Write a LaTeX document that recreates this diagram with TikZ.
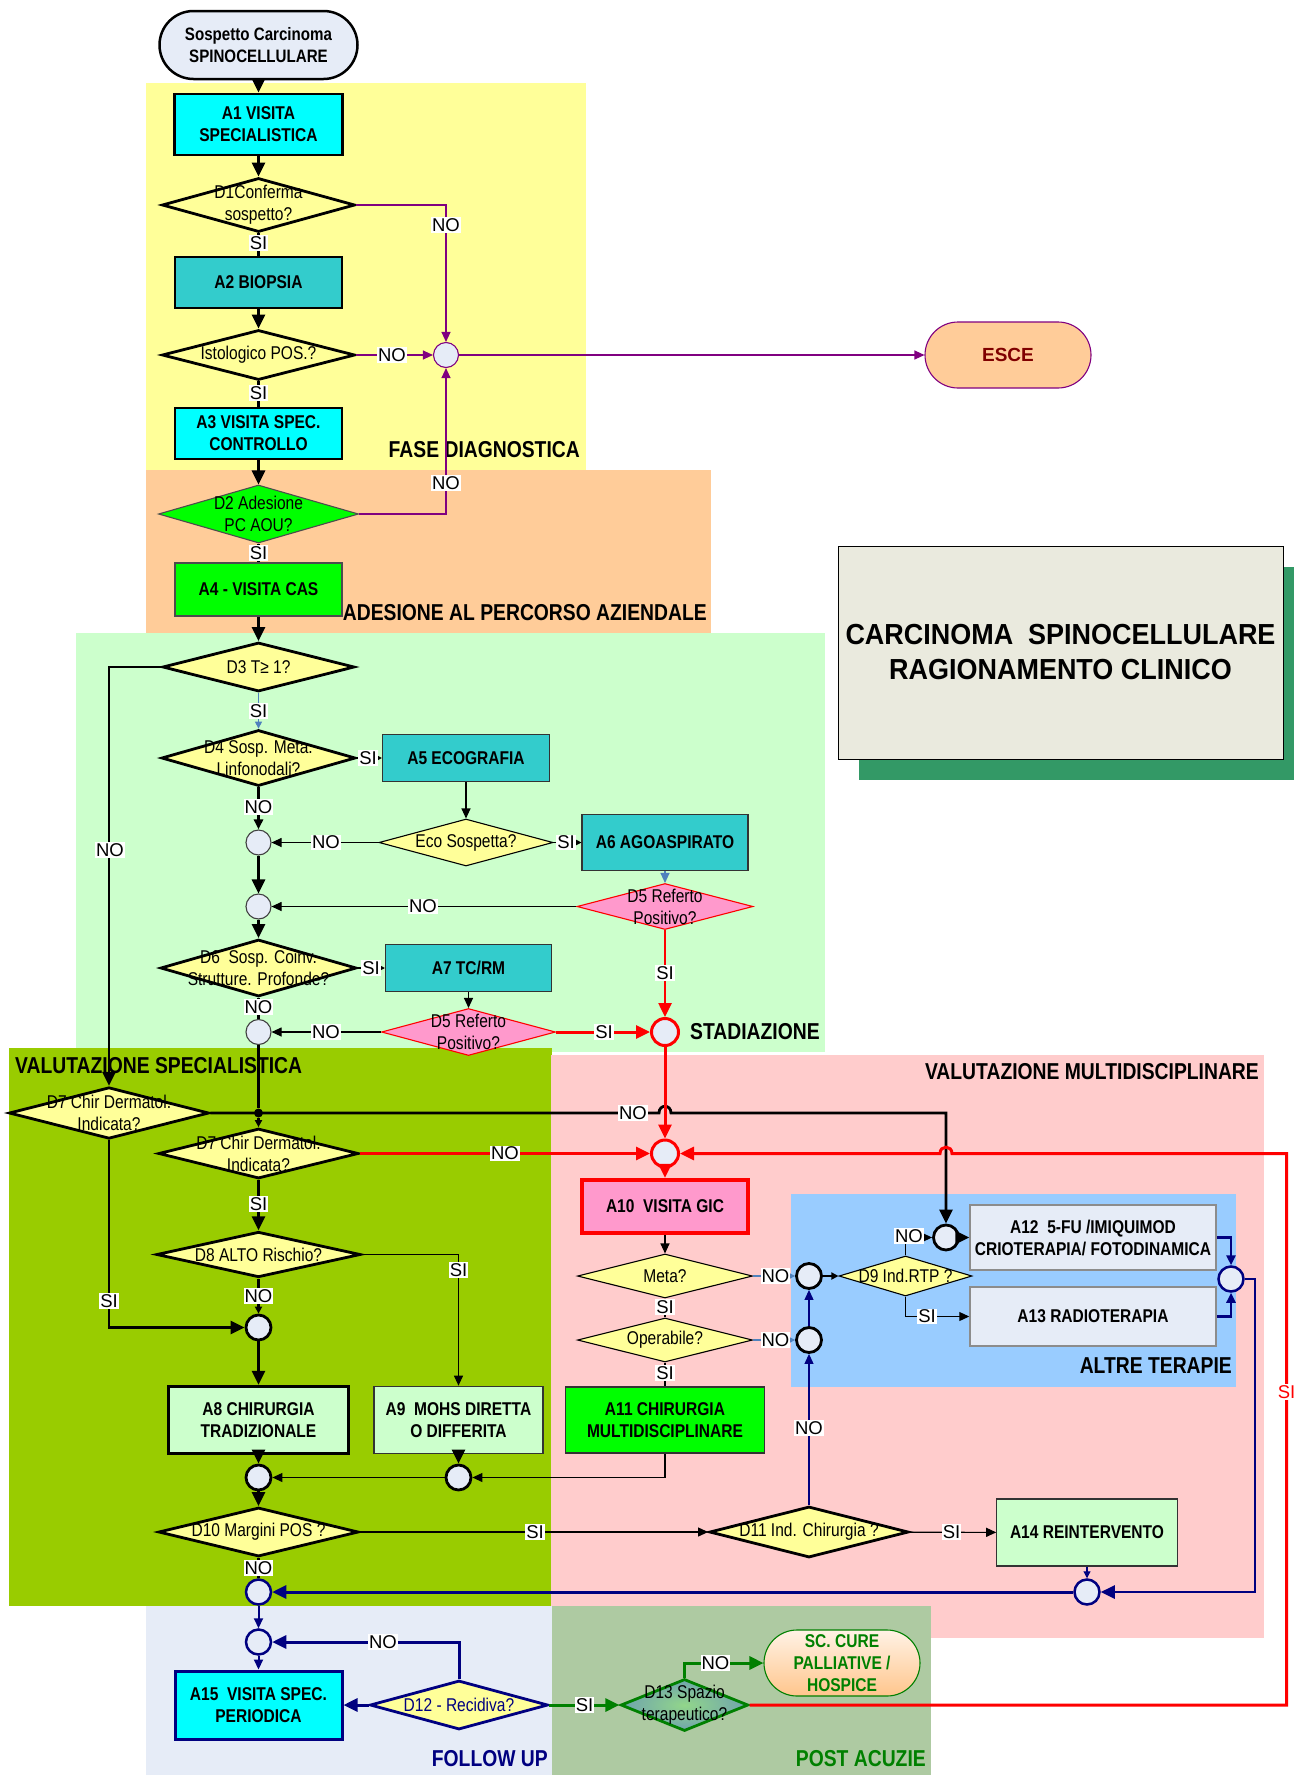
\documentclass[tikz,border=0pt]{standalone}
\usepackage{fontspec}
\setmainfont{Liberation Sans}[FakeStretch=0.84]
\newfontfamily\labf{Liberation Sans}
\newfontfamily\ttlf{Liberation Sans}[FakeStretch=0.93]
\usetikzlibrary{shapes.geometric,arrows.meta}
\definecolor{cYel}{HTML}{FFFF99}
\definecolor{cOra}{HTML}{FFCC99}
\definecolor{cLgr}{HTML}{CCFFCC}
\definecolor{cOli}{HTML}{99CC00}
\definecolor{cPnk}{HTML}{FFCCCC}
\definecolor{cBlu}{HTML}{99CCFF}
\definecolor{cFol}{HTML}{E6ECF7}
\definecolor{cPost}{HTML}{AECAA2}
\definecolor{cCyan}{HTML}{00FFFF}
\definecolor{cTeal}{HTML}{33CCCC}
\definecolor{cGreen}{HTML}{00FF00}
\definecolor{cPink}{HTML}{FF99CC}
\definecolor{cLbg}{HTML}{E6ECF7}
\definecolor{cPur}{HTML}{800080}
\definecolor{cNav}{HTML}{000080}
\definecolor{cDgr}{HTML}{008000}
\definecolor{cShad}{HTML}{339966}
\definecolor{cTtl}{HTML}{EAEADE}
\definecolor{cBl2}{HTML}{4F81BD}
\definecolor{cDred}{HTML}{800000}
\definecolor{cD13i}{HTML}{92D68A}
\definecolor{cD13o}{HTML}{6FA3AE}
\newcommand\bxf{\fontsize{18.5}{22}\selectfont\bfseries}
\newcommand\dtf{\fontsize{18.5}{22}\selectfont}
\newcommand\lbf{\labf\fontsize{18.5}{22}\selectfont}
\newcommand\rgf{\fontsize{23}{26}\selectfont\bfseries}
\begin{document}
\begin{tikzpicture}[x=1pt,y=-1pt,
  bx/.style={rectangle,draw,inner sep=0pt,align=center,font=\bxf},
  dia/.style={diamond,draw,inner sep=0pt},
  dtx/.style={align=center,font=\dtf,inner sep=0pt},
  cc/.style={circle,draw,inner sep=0pt,minimum size=25pt,fill=cLbg},
  lab/.style={fill=white,inner sep=1pt,font=\lbf},
  reg/.style={font=\rgf,inner sep=0pt},
  tk/.style={line width=2.8pt},
  tn/.style={line width=1.1pt},
  big/.style={-{Triangle[length=14pt,width=13pt]}},
  med/.style={-{Triangle[length=10pt,width=9pt]}},
  sml/.style={-{Triangle[length=7pt,width=7pt]}}]
\useasboundingbox (0,0) rectangle (1294,1775);
% ---------- regions
\fill[cYel] (146,83) rectangle (586,470);
\fill[cOra] (146,470) rectangle (711,633);
\fill[cLgr] (76,633) rectangle (825,1052);
\fill[cOli] (9,1048) rectangle (552,1606);
\fill[cPnk] (551,1055) rectangle (1263.5,1638);
\fill[cBlu] (791,1194) rectangle (1236,1387);
\fill[cFol] (146,1606) rectangle (552,1775);
\fill[cPost] (552,1606) rectangle (931,1775);
% ---------- title
\fill[cShad] (859,567) rectangle (1294,780);
\node[draw,fill=cTtl,minimum width=445,minimum height=213,inner sep=0pt,align=center,
  font=\ttlf\fontsize{29}{35}\selectfont\bfseries] (ttl) at (1060.5,652.5)
  {CARCINOMA\ \ SPINOCELLULARE\\RAGIONAMENTO CLINICO};
% ---------- region titles
\node[reg,anchor=east] (rfase) at (580,450) {FASE DIAGNOSTICA};
\node[reg,anchor=east] (rades) at (707,613) {ADESIONE AL PERCORSO AZIENDALE};
\node[reg,anchor=west] (rstad) at (690,1032) {STADIAZIONE};
\node[reg,anchor=west] (rvsp) at (15,1066) {VALUTAZIONE SPECIALISTICA};
\node[reg,anchor=east] (rvmd) at (1259,1072) {VALUTAZIONE MULTIDISCIPLINARE};
\node[reg,anchor=east] (ralt) at (1232,1366) {ALTRE TERAPIE};
\node[reg,anchor=east,text=cNav] (rfol) at (548,1759) {FOLLOW UP};
\node[reg,anchor=east,text=cDgr] (rpost) at (926,1759) {POST ACUZIE};
% ---------- nodes
\node[bx,fill=cLbg,line width=2.5pt,rounded corners=34,minimum width=198,minimum height=68,
  font=\fontsize{18}{22}\selectfont\bfseries] (start) at (258.5,45) {Sospetto Carcinoma\\SPINOCELLULARE};
\node[bx,fill=cCyan,line width=2.8pt,minimum width=168,minimum height=61] (a1) at (258.5,124.5) {A1 VISITA\\SPECIALISTICA};
\node[dia,fill=cYel,line width=2.8pt,minimum width=193,minimum height=54] (d1) at (258.5,205) {};
\node[dtx] (d1t) at (d1) {D1Conferma\\sospetto?};
\node[bx,fill=cTeal,line width=2.8pt,minimum width=167,minimum height=51] (a2) at (258.5,282.5) {A2 BIOPSIA};
\node[dia,fill=cYel,line width=2.8pt,minimum width=193,minimum height=50] (isto) at (258.5,355) {};
\node[dtx] (istot) at (isto) {Istologico POS.?};
\node[cc,draw=cPur,tn] (pc) at (446,355) {};
\node[bx,fill=cCyan,line width=2.8pt,minimum width=167,minimum height=51] (a3) at (258.5,433.5) {A3 VISITA SPEC.\\CONTROLLO};
\node[bx,fill=cOra,draw=cPur,tn,rounded corners=33,minimum width=166,minimum height=66,
  text=cDred,font=\labf\fontsize{19}{22}\selectfont\bfseries] (esce) at (1008,355) {ESCE};
\node[dia,fill=cGreen,draw=black!70,tn,minimum width=200,minimum height=58] (d2) at (258.5,514) {};
\node[dtx] (d2t) at (d2) {D2 Adesione\\PC AOU?};
\node[bx,fill=cGreen,draw=black!70,tn,minimum width=167,minimum height=53] (a4) at (258.5,589.5) {A4 - VISITA CAS};
\node[dia,fill=cYel,line width=2.8pt,minimum width=192,minimum height=49] (d3) at (258.5,667) {};
\node[dtx] (d3t) at (d3) {D3 T≥ 1?};
\node[dia,fill=cYel,line width=2.8pt,minimum width=194,minimum height=56] (d4) at (258.5,758) {};
\node[dtx] (d4t) at (d4) {D4 Sosp. Meta.\\Linfonodali?};
\node[bx,fill=cTeal,draw=black!80,tn,minimum width=167,minimum height=47] (a5) at (466,758) {A5 ECOGRAFIA};
\node[dia,fill=cYel,tn,minimum width=174,minimum height=47] (eco) at (466,842.5) {};
\node[dtx] (ecot) at (eco) {Eco Sospetta?};
\node[bx,fill=cTeal,draw=black!80,tn,minimum width=166,minimum height=56] (a6) at (665,842.5) {A6 AGOASPIRATO};
\node[cc,draw=black!75,tn] (c1) at (258.5,842.5) {};
\node[cc,draw=black!75,tn] (c2) at (258.5,906.5) {};
\node[dia,fill=cPink,draw=red,tn,minimum width=176,minimum height=46] (d5a) at (665,906.5) {};
\node[dtx] (d5at) at (d5a) {D5 Referto\\Positivo?};
\node[dia,fill=cYel,line width=2.8pt,minimum width=196,minimum height=57] (d6) at (258.5,968) {};
\node[dtx] (d6t) at (d6) {D6\ \ Sosp. Coinv.\\Strutture. Profonde?};
\node[bx,fill=cTeal,draw=black!80,tn,minimum width=166,minimum height=47] (a7) at (468.5,968) {A7 TC/RM};
\node[dia,fill=cPink,draw=red,tn,minimum width=174,minimum height=47] (d5b) at (468.5,1032) {};
\node[dtx] (d5bt) at (d5b) {D5 Referto\\Positivo?};
\node[cc,draw=black!75,tn] (c3) at (258.5,1032) {};
\node[cc,draw=red,line width=3pt,minimum size=27pt] (stad) at (665,1032) {};
\node[dia,fill=cYel,line width=2.8pt,minimum width=200,minimum height=51.5] (d7a) at (109,1113) {};
\node[dtx] (d7at) at (d7a) {D7 Chir Dermatol.\\Indicata?};
\node[circle,fill=black,inner sep=0pt,minimum size=9pt] (jn) at (258.5,1113) {};
\node[dia,fill=cYel,line width=2.8pt,minimum width=200,minimum height=50] (d7b) at (258.5,1153.5) {};
\node[dtx] (d7bt) at (d7b) {D7 Chir Dermatol.\\Indicata?};
\node[dia,fill=cYel,line width=2.8pt,minimum width=204,minimum height=45.5] (d8) at (258.5,1254.5) {};
\node[dtx] (d8t) at (d8) {D8 ALTO Rischio?};
\node[cc,line width=2.8pt] (c4) at (258.5,1327.5) {};
\node[bx,fill=cLgr,line width=2.8pt,minimum width=180,minimum height=67.6] (a8) at (258.5,1420) {A8 CHIRURGIA\\TRADIZIONALE};
\node[bx,fill=cLgr,draw=black!80,tn,minimum width=169,minimum height=67.6] (a9) at (458.5,1420) {A9\ \ MOHS DIRETTA\\O DIFFERITA};
\node[cc,line width=2.8pt] (c5) at (258.5,1477.5) {};
\node[cc,line width=2.8pt] (c6) at (458.5,1477.5) {};
\node[dia,fill=cYel,line width=2.8pt,minimum width=200,minimum height=49] (d10) at (258.5,1532) {};
\node[dtx] (d10t) at (d10) {D10 Margini POS ?};
\node[cc,draw=cNav,line width=2.5pt] (c7) at (258.5,1592) {};
\node[cc,draw=red,line width=3pt,minimum size=27pt] (a10c) at (665,1153.5) {};
\node[bx,fill=cPink,draw=red,line width=4.5pt,minimum width=166,minimum height=53] (a10) at (665,1206.5) {A10\ \ VISITA GIC};
\node[dia,fill=cYel,tn,minimum width=175,minimum height=44] (meta) at (665,1276) {};
\node[dtx] (metat) at (meta) {Meta?};
\node[dia,fill=cYel,tn,minimum width=175,minimum height=44] (oper) at (665,1340) {};
\node[dtx] (opert) at (oper) {Operabile?};
\node[bx,fill=cGreen,draw=black!80,tn,minimum width=199.5,minimum height=66] (a11) at (665,1420) {A11 CHIRURGIA\\MULTIDISCIPLINARE};
\node[cc,line width=2.8pt] (c8) at (809,1276) {};
\node[cc,line width=2.8pt] (c9) at (809,1340) {};
\node[dia,fill=cYel,tn,minimum width=133,minimum height=40] (d9) at (905.5,1276) {};
\node[dtx] (d9t) at (d9) {D9 Ind.RTP ?};
\node[cc,line width=2.8pt] (c10) at (946,1237.5) {};
\node[bx,fill=cLbg,draw=black!45,line width=1.5pt,minimum width=246,minimum height=65] (a12) at (1093,1237.5) {A12\ \ 5-FU /IMIQUIMOD\\CRIOTERAPIA/ FOTODINAMICA};
\node[bx,fill=cLbg,draw=black!45,line width=1.5pt,minimum width=246,minimum height=59] (a13) at (1093,1316.5) {A13 RADIOTERAPIA};
\node[cc,draw=cNav,line width=2.5pt] (c11) at (1231,1279) {};
\node[dia,fill=cYel,line width=2.8pt,minimum width=199,minimum height=51] (d11) at (809,1532) {};
\node[dtx] (d11t) at (d11) {D11 Ind. Chirurgia ?};
\node[bx,fill=cLgr,draw=black!80,tn,minimum width=180.5,minimum height=67] (a14) at (1087,1532.5) {A14 REINTERVENTO};
\node[cc,draw=cNav,line width=2.5pt] (c12) at (1087,1592) {};
\node[cc,draw=cNav,line width=2.5pt] (c13) at (258.5,1642) {};
\node[bx,fill=cCyan,draw=cNav,line width=3pt,minimum width=167,minimum height=68] (a15) at (258.5,1705) {A15\ \ VISITA SPEC.\\PERIODICA};
\node[dia,fill=cYel,draw=cNav,line width=2.8pt,minimum width=178,minimum height=49] (d12) at (459,1705) {};
\node[dtx,text=cNav] (d12t) at (d12) {D12 - Recidiva?};
\node[dia,draw=cDgr,line width=2.8pt,shading=radial,inner color=cD13i,outer color=cD13o,minimum width=127.5,minimum height=52] (d13) at (684.5,1705) {};
\node[dtx] (d13t) at (d13) {D13 Spazio\\terapeutico?};
\node[bx,draw=cDgr,tn,rounded corners=33,top color=white!90!orange,bottom color=orange!45!white,
  minimum width=156,minimum height=66,text=cDgr] (sc) at (842,1663) {SC. CURE\\PALLIATIVE /\\HOSPICE};
% ---------- connectors: purple
\draw[cPur,tn,med] (d1.east) -| (pc);
\draw[cPur,tn,med] (isto.east) -- (pc);
\draw[cPur,tn,med] (d2.east) -| (pc);
\draw[cPur,tn,med] (pc) -- (esce);
% ---------- black main column
\draw[tk,big] (start) -- (a1);
\draw[tk,big] (a1) -- (d1);
\draw[tk] (d1) -- (a2);
\draw[tk,big] (a2) -- (isto);
\draw[tk] (isto) -- (a3);
\draw[tk,big] (a3) -- (d2);
\draw[tk] (d2) -- (a4);
\draw[tk,big] (a4) -- (d3);
\draw[cBl2,tn,sml] (d3) -- (d4);
\draw[tn,sml] (d4) -- (a5);
\draw[tn,med] (a5) -- (eco);
\draw[tn,sml] (eco) -- (a6);
\draw[tn,med] (eco) -- (c1);
\draw[tk,med] (d4) -- (c1);
\draw[tk,big] (c1) -- (c2);
\draw[cBl2,tn,med] (a6) -- (d5a);
\draw[tn,med] (d5a) -- (c2);
\draw[tk,big] (c2) -- (d6);
\draw[tn,sml] (d6) -- (a7);
\draw[tn,med] (a7) -- (d5b);
\draw[tk] (d6) -- (c3);
\draw[tn,med] (d5b) -- (c3);
\draw[red,line width=3pt,big] (d5b) -- (stad);
\draw[red,line width=2.5pt,big] (d5a) -- (stad);
\draw[tk,big] (d3.west) -| (d7a.north);
\draw[tk] (c3) -- (jn);
\draw[tk,sml] (jn) -- (d7b);
\draw[tk,big] (d7a.east) -- (659,1113) .. controls (659,1104) and (671,1104) .. (671,1113) -- (946,1113) -- (c10);
\draw[red,line width=3pt,big] (d7b) -- (a10c);
\draw[red,line width=3pt,big] (stad) -- (a10c);
\draw[red,line width=3pt,big] (d13.east) -- (1286.5,1705) -- (1286.5,1153.5) -- (952,1153.5)
  .. controls (952,1145) and (940,1145) .. (940,1153.5) -- (a10c);
\draw[red,line width=3pt,big] (a10c) -- (a10);
\draw[tn,med] (a10) -- (meta);
\draw[tn] (meta) -- (oper);
\draw[tn] (oper) -- (a11);
\draw[cBl2,tn,sml] (meta) -- (c8);
\draw[cBl2,tn,sml] (oper) -- (c9);
\draw[cNav,tn,med] (c9) -- (c8);
\draw[cNav,tn,med] (d11) -- (c9);
\draw[tk,sml] (c8) -- (d9);
\draw[tn,med] (d9.north) |- (c10);
\draw[tk,big] (c10) -- (a12);
\draw[tn,med] (d9.south) |- (a13);
\draw[cNav,line width=2.5pt,med] (a12.east) -| (c11);
\draw[cNav,line width=2.5pt,med] (a13.east) -| (c11);
\draw[cNav,line width=2.5pt,big] (c11.east) -- (1255,1279) -- (1255,1592) -- (c12);
\draw[cNav,line width=3pt,big] (c12) -- (c7);
\draw[cNav,tn,sml] (a14) -- (c12);
\draw[tn,med] (a11.south) |- (c6);
\draw[tn,med] (c6) -- (c5);
\draw[tk,big] (a8) -- (c5);
\draw[tk,big] (a9) -- (c6);
\draw[tk,big] (c4) -- (a8);
\draw[tk,big] (d7a.south) |- (c4);
\draw[tk,big] (d7b) -- (d8);
\draw[tk,sml] (d8) -- (c4);
\draw[tn,med] (d8.east) -| (a9.north);
\draw[tk,big] (c5) -- (d10);
\draw[tn,med] (d10) -- (d11);
\draw[tn,med] (d11) -- (a14);
\draw[tk] (d10) -- (c7);
\draw[cNav,line width=2pt,med] (c7) -- (c13);
\draw[cNav,line width=2pt,med] (c13) -- (a15);
\draw[cNav,line width=3pt,big] (d12) -- (a15);
\draw[cNav,line width=3pt,big] (d12.north) |- (c13);
\draw[cDgr,line width=3pt,big] (d12) -- (d13);
\draw[cDgr,line width=3pt,big] (d13.north) |- (sc);
% ---------- labels
\node[lab] (l1) at (446,225) {NO};
\node[lab] (l2) at (258.5,243) {SI};
\node[lab] (l3) at (392,355) {NO};
\node[lab] (l4) at (258.5,393) {SI};
\node[lab] (l5) at (446,483) {NO};
\node[lab] (l6) at (258.5,553) {SI};
\node[lab] (l7) at (258.5,711) {SI};
\node[lab] (l8) at (368,758) {SI};
\node[lab] (l9) at (258.5,807) {NO};
\node[lab] (l10) at (326,842.5) {NO};
\node[lab] (l11) at (566,842.5) {SI};
\node[lab] (l12) at (423,906.5) {NO};
\node[lab] (l13) at (371,968) {SI};
\node[lab] (l14) at (258.5,1007) {NO};
\node[lab] (l15) at (326,1032) {NO};
\node[lab] (l16) at (604,1032) {SI};
\node[lab] (l17) at (665,973) {SI};
\node[lab] (l18) at (110,850) {NO};
\node[lab] (l19) at (633,1113) {NO};
\node[lab] (l20) at (505,1153.5) {NO};
\node[lab] (l21) at (258.5,1204) {SI};
\node[lab] (l22) at (458.5,1270) {SI};
\node[lab] (l23) at (258.5,1296) {NO};
\node[lab] (l24) at (109,1301) {SI};
\node[lab] (l25) at (535,1532) {SI};
\node[lab] (l26) at (258.5,1568) {NO};
\node[lab] (l27) at (775.5,1276) {NO};
\node[lab] (l28) at (665,1307) {SI};
\node[lab] (l29) at (775.5,1340) {NO};
\node[lab] (l30) at (665,1373) {SI};
\node[lab] (l31) at (909,1236) {NO};
\node[lab] (l32) at (927,1316.5) {SI};
\node[lab] (l33) at (809,1428) {NO};
\node[lab,text=red] (l34) at (1286.5,1392) {SI};
\node[lab] (l35) at (951.5,1532) {SI};
\node[lab] (l36) at (383,1642) {NO};
\node[lab] (l37) at (584.5,1705) {SI};
\node[lab] (l38) at (715.5,1663) {NO};
\end{tikzpicture}
\end{document}
